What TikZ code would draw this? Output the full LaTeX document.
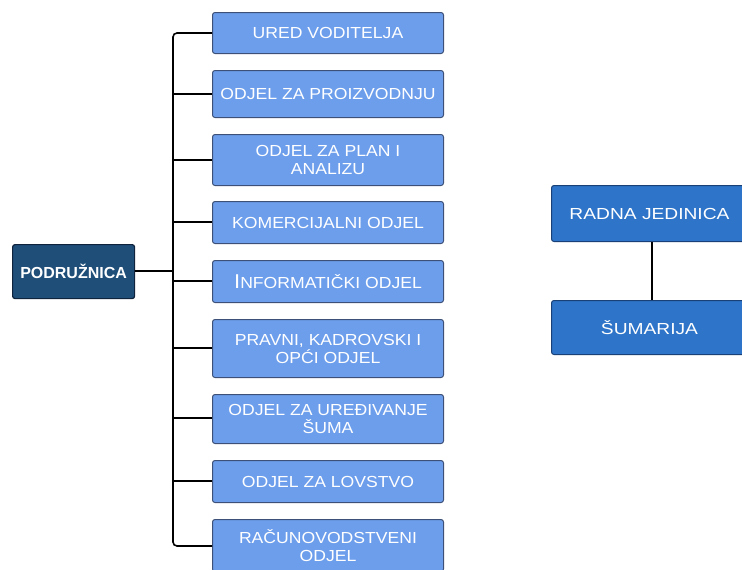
\documentclass[tikz,border=0pt]{standalone}
\usepackage{fontspec}
\setmainfont{Liberation Sans}
\newfontfamily\deptfont[FakeStretch=1.1]{Liberation Sans}
\newfontfamily\unitfont[FakeStretch=1.2]{Liberation Sans}
\definecolor{lightbox}{RGB}{109,158,236}
\definecolor{lightedge}{RGB}{60,80,120}
\definecolor{darkbox}{RGB}{31,78,121}
\definecolor{darkedge}{RGB}{15,35,60}
\definecolor{midbox}{RGB}{46,117,201}
\definecolor{midedge}{RGB}{25,65,120}
\tikzset{
  dept/.style={draw=lightedge, line width=1pt, fill=lightbox, rounded corners=2.5pt,
    text=white, align=center, font=\deptfont\fontsize{16}{18}\selectfont, inner sep=0pt},
  rootbox/.style={draw=darkedge, line width=1.2pt, fill=darkbox, rounded corners=2.5pt,
    text=white, align=center, font=\bfseries\fontsize{16}{18}\selectfont, inner sep=0pt},
  unitbox/.style={draw=midedge, line width=1pt, fill=midbox, rounded corners=2.5pt,
    text=white, align=center, font=\unitfont\fontsize{16}{18}\selectfont, inner sep=0pt},
  conn/.style={line width=1.6pt, black, rounded corners=4pt},
}
\begin{document}
\begin{tikzpicture}[x=1pt,y=-1pt]
\useasboundingbox (0,0) rectangle (742,570);
% left departments: x 212..443
\newcommand{\deptbox}[5]{%
  \node[dept, minimum width=231pt, minimum height=#3pt, anchor=north west] (#1) at (212,#2) {#4};
  \coordinate (#1c) at (212,#5);
}
\deptbox{d1}{12}{41}{URED VODITELJA}{33}
\deptbox{d2}{70}{47}{ODJEL ZA PROIZVODNJU}{94}
\deptbox{d3}{134}{51}{ODJEL ZA PLAN I\\ANALIZU}{160}
\deptbox{d4}{201}{42}{KOMERCIJALNI ODJEL}{222}
\deptbox{d5}{260}{42}{{\fontsize{20}{18}\selectfont I}NFORMATIČKI ODJEL}{281}
\deptbox{d6}{319}{58}{PRAVNI, KADROVSKI I\\OPĆI ODJEL}{348}
\deptbox{d7}{394}{49}{ODJEL ZA UREĐIVANJE\\ŠUMA}{418}
\deptbox{d8}{460}{42}{ODJEL ZA LOVSTVO}{481}
\deptbox{d9}{519}{52}{RAČUNOVODSTVENI\\ODJEL}{546}

\node[rootbox, minimum width=122pt, minimum height=54pt, anchor=north west] (root) at (12,244) {PODRUŽNICA};

\coordinate (bustop) at (173,33);
\coordinate (busbot) at (173,546);
\coordinate (busmid) at (173,271);

\draw[conn] (d1c) -- (bustop) -- (busbot) -- (d9c);
\foreach \i/\y in {d2/94,d3/160,d4/222,d5/281,d6/348,d7/418,d8/481}
  \draw[conn, rounded corners=0pt] (173,\y) -- (\i c);
\draw[conn, rounded corners=0pt] (root.east |- busmid) -- (busmid);

% right
\node[unitbox, minimum width=196pt, minimum height=56pt, anchor=north west] (rj) at (551,185) {RADNA JEDINICA};
\node[unitbox, minimum width=196pt, minimum height=54pt, anchor=north west] (sum) at (551,300) {ŠUMARIJA};
\draw[line width=1.5pt] (rj.south -| 652,0) -- (sum.north -| 652,0);
\end{tikzpicture}
\end{document}
